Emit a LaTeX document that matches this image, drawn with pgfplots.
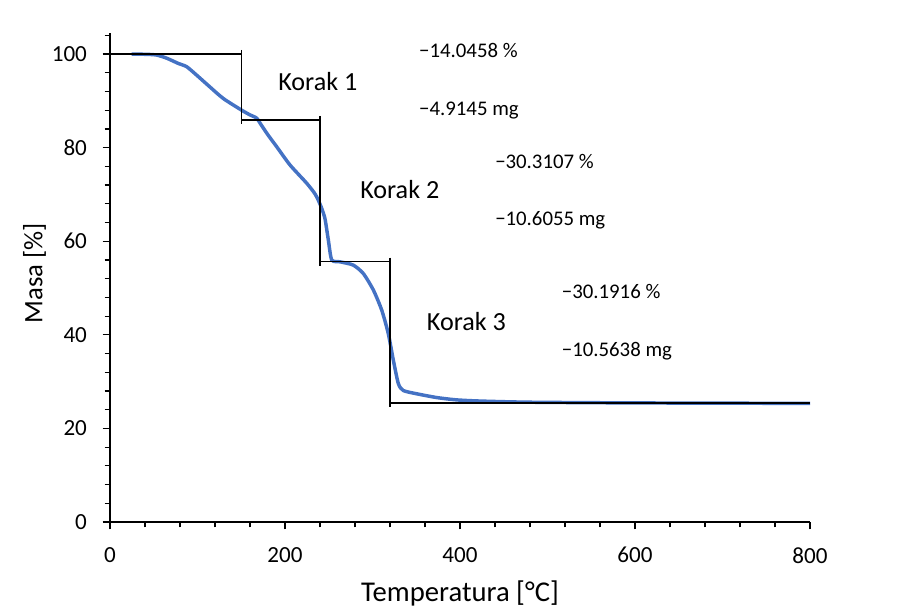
\documentclass[border=0pt]{standalone}
\usepackage{fontspec}
\setmainfont{Carlito}
\usepackage{pgfplots}
\pgfplotsset{compat=1.18}
\definecolor{xblue}{RGB}{68,114,196}
\begin{document}
\begin{tikzpicture}
\begin{axis}[
  scale only axis, width=525pt, height=366.75pt,
  xmin=0, xmax=800, ymin=0, ymax=104.5,
  axis lines*=left,
  axis line style={black, line width=1pt},
  xtick={0,200,...,800}, ytick={0,20,...,100},
  minor xtick={0,40,...,800}, minor ytick={0,4,...,104},
  tick align=outside,
  major tick length=5.5pt, minor tick length=4pt,
  every tick/.style={black, line width=0.9pt},
  tick label style={font=\fontsize{17.3}{20}\selectfont},
  xticklabel style={yshift=-10pt},
  yticklabel style={xshift=-8.3pt},
  /pgf/number format/assume math mode=true,
  xlabel={Temperatura [°C]}, ylabel={Masa [\%]},
  xlabel style={font=\fontsize{21.5}{24}\selectfont, at={(axis description cs:0.5,-0.1616)}, anchor=base},
  ylabel style={font=\fontsize{20}{24}\selectfont, at={(axis description cs:-0.0967,0.509)}, anchor=base, rotate=0},
  clip=false,
]
\addplot[xblue, line width=2.6pt, line join=round, smooth, tension=0.4] coordinates {
(24.8,100) (40,99.95) (53,99.8) (65,99.1) (78,98) (87.6,97.3) (99,95.5)
(114,93) (129.5,90.5) (150.5,88.0) (160,87.0) (167.6,86.3) (173,84.8)
(181,82.6) (190.5,80.2) (205.7,76.3) (224.8,72.4) (234,70.2) (238,68.8)
(242,67.0) (245.7,64.8) (249.5,60.3) (253.4,56) (262.9,55.6) (278,54.9)
(289.5,53.1) (300.9,49.6) (310.5,45.3) (318,40.3) (323.8,34.6) (329.5,29.6)
(335.2,28.1) (350.5,27.4) (373.3,26.6) (396,26.1) (423,25.85) (480,25.6)
(600,25.45) (800,25.35)
};
% step lines
\addplot[black, line width=1.1pt] coordinates {(0,100) (150,100)};
\addplot[black, line width=1.1pt] coordinates {(150,100.9) (150,85.1)};
\addplot[black, line width=1.1pt] coordinates {(150,85.95) (240,85.95)};
\addplot[black, line width=1.1pt] coordinates {(240,86.8) (240,54.8)};
\addplot[black, line width=1.1pt] coordinates {(240,55.64) (320,55.64)};
\addplot[black, line width=1.1pt] coordinates {(320,56.5) (320,24.6)};
\addplot[black, line width=1.1pt] coordinates {(320,25.45) (800,25.45)};
% annotations
\node[font=\fontsize{19.6}{22}\selectfont, anchor=base west, inner sep=0pt] at (axis cs:192,92.3) {Korak 1};
\node[font=\fontsize{19.6}{22}\selectfont, anchor=base west, inner sep=0pt] at (axis cs:285.7,69.2) {Korak 2};
\node[font=\fontsize{19.6}{22}\selectfont, anchor=base west, inner sep=0pt] at (axis cs:361.9,41.0) {Korak 3};
\node[font=\fontsize{15.6}{18}\selectfont, anchor=base west, inner sep=0pt] at (axis cs:353.1,99.2) {−14.0458 \%};
\node[font=\fontsize{15.6}{18}\selectfont, anchor=base west, inner sep=0pt] at (axis cs:353.1,86.97) {−4.9145 mg};
\node[font=\fontsize{15.6}{18}\selectfont, anchor=base west, inner sep=0pt] at (axis cs:440,75.57) {−30.3107 \%};
\node[font=\fontsize{15.6}{18}\selectfont, anchor=base west, inner sep=0pt] at (axis cs:440,63.46) {−10.6055 mg};
\node[font=\fontsize{15.6}{18}\selectfont, anchor=base west, inner sep=0pt] at (axis cs:516.2,47.8) {−30.1916 \%};
\node[font=\fontsize{15.6}{18}\selectfont, anchor=base west, inner sep=0pt] at (axis cs:516.2,35.47) {−10.5638 mg};
\end{axis}
\path (-82.5pt,-64.5pt) rectangle (594pt,391.5pt);
\end{tikzpicture}
\end{document}
